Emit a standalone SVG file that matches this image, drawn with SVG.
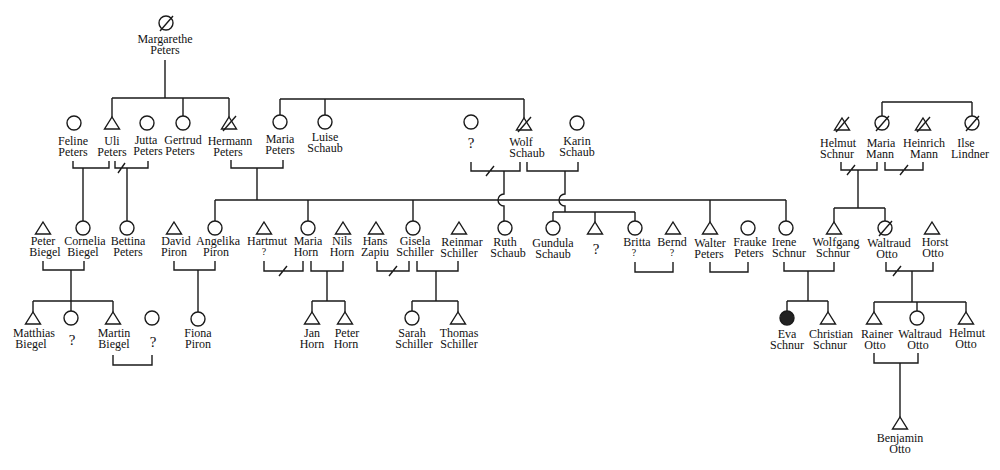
<svg xmlns="http://www.w3.org/2000/svg" width="1000" height="470" viewBox="0 0 1000 470">
<style>
.ln{fill:none;stroke:#1a1a1a;stroke-width:1.4}
.sym{fill:#fff;stroke:#1a1a1a;stroke-width:1.4}
.fill{fill:#222;stroke:#1a1a1a;stroke-width:1.4}
text{font-family:"Liberation Serif","Times New Roman",serif;font-size:12px;fill:#111;text-anchor:middle}
.q{font-size:15px}
.qs{font-size:10px}
</style>
<defs>
<circle id="circ" class="sym" r="7"/>
<path id="tri" class="sym" d="M0,-6 L7.5,6 L-7.5,6 Z"/>
<path id="sl" class="ln" d="M-6,8 L7,-7"/>
</defs>
<rect width="1000" height="470" fill="#fff"/>

<g id="connectors">
<!-- Margarethe's children -->
<path class="ln" d="M165,60 V98 M112,98 H229 M112,98 V117 M183,98 V116 M229,98 V117"/>
<!-- Maria Peters / Luise / Wolf siblings -->
<path class="ln" d="M280,99 H524 M280,99 V115 M325,99 V115 M524,99 V118"/>
<!-- Maria Mann / Ilse siblings -->
<path class="ln" d="M882,102 H972 M882,102 V116 M972,102 V116"/>
<!-- Feline-Uli -->
<path class="ln" d="M73,161 V168 H109 V161 M83,168 V221"/>
<!-- Uli-Jutta -->
<path class="ln" d="M115,161 V168 H148 V161 M127,168 V221 M118,173 L125,163"/>
<!-- Hermann-Maria Peters -->
<path class="ln" d="M231,160 V168 H283 V160 M257,168 V200"/>
<!-- gen 2 bar -->
<path class="ln" d="M215,200 H786 M215,200 V221 M308,200 V221 M413,200 V221 M710,200 V222 M786,200 V221"/>
<!-- ?-Wolf -->
<path class="ln" d="M471,162 V171 H520 V162 M486,176 L494,166 M504,171 V194 A6,6 0 0,0 504,206 V221"/>
<!-- Wolf-Karin -->
<path class="ln" d="M527,162 V171 H578 V162 M565,171 V194 A6,6 0 0,0 565,206 V212 M553,212 H635 M553,212 V221 M595,212 V222 M635,212 V221"/>
<!-- Helmut-Maria Mann -->
<path class="ln" d="M841,162 V170 H877 V162 M847,175 L855,165 M858,170 V208 M834,208 H885 M834,208 V222 M885,208 V221"/>
<!-- Maria Mann-Heinrich -->
<path class="ln" d="M885,162 V170 H923 V162 M900,175 L908,165"/>
<!-- Peter-Cornelia -->
<path class="ln" d="M43,261 V270 H84 V261 M71,270 V301 M33,301 H113 M33,301 V312 M71,301 V311 M113,301 V312"/>
<!-- David-Angelika -->
<path class="ln" d="M174,261 V270 H215 V261 M198,270 V312"/>
<!-- Hartmut-Maria Horn -->
<path class="ln" d="M264,261 V271 H303 V261 M279,276 L287,266"/>
<!-- Maria Horn-Nils -->
<path class="ln" d="M311,261 V271 H343 V261 M327,271 V301 M312,301 H345 M312,301 V312 M345,301 V312"/>
<!-- Hans-Gisela -->
<path class="ln" d="M377,261 V271 H409 V261 M389,276 L397,266"/>
<!-- Gisela-Reinmar -->
<path class="ln" d="M417,261 V271 H458 V261 M436,271 V301 M412,301 H458 M412,301 V311 M458,301 V312"/>
<!-- Britta-Bernd -->
<path class="ln" d="M635,262 V272 H673 V262"/>
<!-- Walter-Frauke -->
<path class="ln" d="M710,262 V272 H748 V262"/>
<!-- Irene-Wolfgang -->
<path class="ln" d="M784,262 V271 H834 V262 M808,271 V301 M787,301 H828 M787,301 V311 M828,301 V312"/>
<!-- Waltraud-Horst -->
<path class="ln" d="M886,262 V271 H933 V262 M893,276 L901,266 M912,271 V302 M874,302 H966 M874,302 V312 M917,302 V311 M966,302 V312"/>
<!-- Martin-? -->
<path class="ln" d="M113,355 V365 H152 V355"/>
<!-- Rainer-Waltraud -->
<path class="ln" d="M874,353 V363 H918 V353 M900,363 V417"/>
</g>

<g id="margarethe"><use href="#circ" x="166" y="23"/><use href="#sl" x="166" y="23"/><text x="165" y="43">Margarethe</text><text x="165" y="54">Peters</text></g>

<g id="feline"><use href="#circ" x="74" y="123"/><text x="73" y="145">Feline</text><text x="73" y="156">Peters</text></g>
<g id="uli"><use href="#tri" x="112" y="123"/><text x="112" y="145">Uli</text><text x="112" y="156">Peters</text></g>
<g id="jutta"><use href="#circ" x="147" y="123"/><text x="146" y="144">Jutta</text><text x="148" y="155">Peters</text></g>
<g id="gertrud"><use href="#circ" x="183" y="123"/><text x="183" y="144">Gertrud</text><text x="180" y="155">Peters</text></g>
<g id="hermann"><use href="#tri" x="229" y="123"/><use href="#sl" x="229" y="123"/><text x="230" y="145">Hermann</text><text x="228" y="156">Peters</text></g>
<g id="maria-peters"><use href="#circ" x="280" y="122"/><text x="280" y="143">Maria</text><text x="280" y="154">Peters</text></g>
<g id="luise"><use href="#circ" x="325" y="122"/><text x="325" y="141">Luise</text><text x="325" y="152">Schaub</text></g>
<g id="unknown-1"><use href="#circ" x="471" y="122"/><text class="q" x="471" y="148">?</text></g>
<g id="wolf"><use href="#tri" x="524" y="124"/><use href="#sl" x="524" y="124"/><text x="521" y="146">Wolf</text><text x="527" y="157">Schaub</text></g>
<g id="karin"><use href="#circ" x="577" y="123"/><text x="577" y="145">Karin</text><text x="577" y="156">Schaub</text></g>

<g id="helmut-schnur"><use href="#tri" x="842" y="124"/><use href="#sl" x="842" y="124"/><text x="838" y="147">Helmut</text><text x="837" y="158">Schnur</text></g>
<g id="maria-mann"><use href="#circ" x="882" y="123"/><use href="#sl" x="882" y="123"/><text x="881" y="147">Maria</text><text x="880" y="158">Mann</text></g>
<g id="heinrich"><use href="#tri" x="923" y="124"/><use href="#sl" x="923" y="124"/><text x="924" y="147">Heinrich</text><text x="924" y="158">Mann</text></g>
<g id="ilse"><use href="#circ" x="972" y="123"/><use href="#sl" x="972" y="123"/><text x="966" y="147">Ilse</text><text x="970" y="158">Lindner</text></g>

<g id="peter-biegel"><use href="#tri" x="43" y="228"/><text x="43" y="245">Peter</text><text x="45" y="256">Biegel</text></g>
<g id="cornelia"><use href="#circ" x="83" y="228"/><text x="85" y="245">Cornelia</text><text x="83" y="256">Biegel</text></g>
<g id="bettina"><use href="#circ" x="127" y="228"/><text x="128" y="245">Bettina</text><text x="128" y="256">Peters</text></g>
<g id="david"><use href="#tri" x="174" y="228"/><text x="176" y="245">David</text><text x="174" y="256">Piron</text></g>
<g id="angelika"><use href="#circ" x="215" y="228"/><text x="218" y="245">Angelika</text><text x="216" y="256">Piron</text></g>
<g id="hartmut"><use href="#tri" x="264" y="228"/><text x="267" y="245">Hartmut</text><text class="qs" x="264" y="255">?</text></g>
<g id="maria-horn"><use href="#circ" x="308" y="228"/><text x="308" y="245">Maria</text><text x="306" y="256">Horn</text></g>
<g id="nils"><use href="#tri" x="343" y="228"/><text x="342" y="245">Nils</text><text x="342" y="256">Horn</text></g>
<g id="hans"><use href="#tri" x="376" y="228"/><text x="375" y="245">Hans</text><text x="375" y="256">Zapiu</text></g>
<g id="gisela"><use href="#circ" x="413" y="228"/><text x="415" y="245">Gisela</text><text x="415" y="256">Schiller</text></g>
<g id="reinmar"><use href="#tri" x="459" y="228"/><text x="462" y="246">Reinmar</text><text x="459" y="257">Schiller</text></g>
<g id="ruth"><use href="#circ" x="505" y="228"/><text x="505" y="246">Ruth</text><text x="508" y="257">Schaub</text></g>
<g id="gundula"><use href="#circ" x="553" y="228"/><text x="553" y="247">Gundula</text><text x="553" y="258">Schaub</text></g>
<g id="unknown-2"><use href="#tri" x="595" y="228"/><text class="q" x="596" y="254">?</text></g>
<g id="britta"><use href="#circ" x="635" y="228"/><text x="637" y="246">Britta</text><text class="qs" x="634" y="256">?</text></g>
<g id="bernd"><use href="#tri" x="673" y="228"/><text x="672" y="246">Bernd</text><text class="qs" x="672" y="256">?</text></g>
<g id="walter"><use href="#tri" x="710" y="228"/><text x="710" y="247">Walter</text><text x="709" y="258">Peters</text></g>
<g id="frauke"><use href="#circ" x="748" y="228"/><text x="750" y="246">Frauke</text><text x="749" y="257">Peters</text></g>
<g id="irene"><use href="#circ" x="786" y="228"/><text x="784" y="246">Irene</text><text x="789" y="257">Schnur</text></g>
<g id="wolfgang"><use href="#tri" x="834" y="228"/><text x="836" y="246">Wolfgang</text><text x="833" y="257">Schnur</text></g>
<g id="waltraud-otto"><use href="#circ" x="885" y="228"/><use href="#sl" x="885" y="228"/><text x="889" y="247">Waltraud</text><text x="887" y="258">Otto</text></g>
<g id="horst"><use href="#tri" x="932" y="228"/><text x="935" y="246">Horst</text><text x="933" y="257">Otto</text></g>

<g id="matthias"><use href="#tri" x="33" y="318"/><text x="34" y="337">Matthias</text><text x="31" y="348">Biegel</text></g>
<g id="unknown-3"><use href="#circ" x="71" y="318"/><text class="q" x="72" y="345">?</text></g>
<g id="martin"><use href="#tri" x="113" y="318"/><text x="114" y="337">Martin</text><text x="114" y="348">Biegel</text></g>
<g id="unknown-4"><use href="#circ" x="152" y="318"/><text class="q" x="153" y="347">?</text></g>
<g id="fiona"><use href="#circ" x="198" y="319"/><text x="198" y="337">Fiona</text><text x="198" y="348">Piron</text></g>
<g id="jan"><use href="#tri" x="312" y="318"/><text x="312" y="337">Jan</text><text x="312" y="348">Horn</text></g>
<g id="peter-horn"><use href="#tri" x="345" y="318"/><text x="347" y="337">Peter</text><text x="346" y="348">Horn</text></g>
<g id="sarah"><use href="#circ" x="412" y="318"/><text x="412" y="337">Sarah</text><text x="414" y="348">Schiller</text></g>
<g id="thomas"><use href="#tri" x="458" y="318"/><text x="459" y="337">Thomas</text><text x="459" y="348">Schiller</text></g>
<g id="eva"><circle class="fill" cx="787" cy="318" r="7"/><text x="787" y="338">Eva</text><text x="787" y="349">Schnur</text></g>
<g id="christian"><use href="#tri" x="828" y="318"/><text x="831" y="338">Christian</text><text x="830" y="349">Schnur</text></g>
<g id="rainer"><use href="#tri" x="874" y="318"/><text x="877" y="338">Rainer</text><text x="875" y="349">Otto</text></g>
<g id="waltraud"><use href="#circ" x="917" y="318"/><text x="920" y="338">Waltraud</text><text x="918" y="349">Otto</text></g>
<g id="helmut-otto"><use href="#tri" x="966" y="318"/><text x="967" y="337">Helmut</text><text x="966" y="348">Otto</text></g>

<g id="benjamin"><use href="#tri" x="900" y="423"/><text x="900" y="442">Benjamin</text><text x="900" y="453">Otto</text></g>
</svg>
